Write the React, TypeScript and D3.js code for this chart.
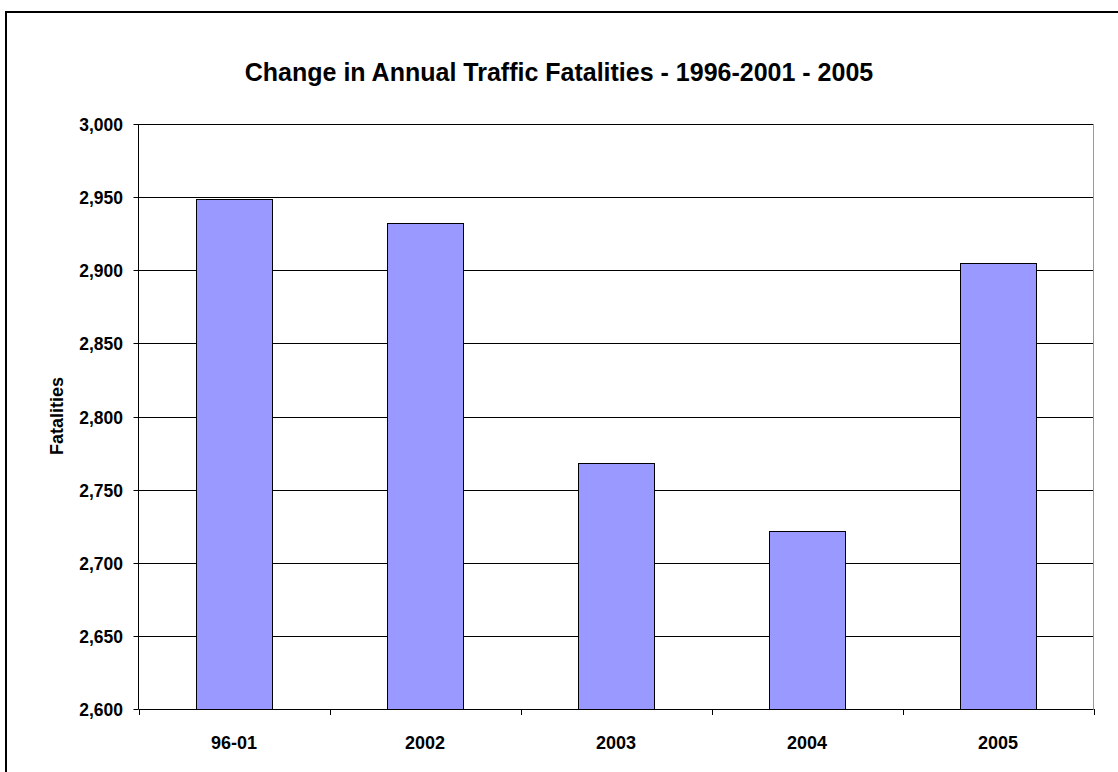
import React from "react";
import * as d3 from "d3";

const categories = ["96-01", "2002", "2003", "2004", "2005"];
const values = [2949, 2932, 2768, 2722, 2905];
const yTicks = [2600, 2650, 2700, 2750, 2800, 2850, 2900, 2950, 3000];
const title = "Change in Annual Traffic Fatalities - 1996-2001 - 2005";
const yTitle = "Fatalities";

export default function App() {
  const W = 1118, H = 772;
  const left = 138.5, right = 1093.5, top = 124, bottom = 709;
  const x = d3.scaleBand<string>().domain(categories).range([left, right]).paddingInner(0).paddingOuter(0);
  const y = d3.scaleLinear().domain([2600, 3000]).range([bottom, top]);
  const bw = x.bandwidth() * 0.4;
  const fmt = d3.format(",");
  const font = "'Liberation Sans', Arial, sans-serif";
  return (
    <svg width={W} height={H} style={{ position: "absolute", left: 0, top: 0, background: "#fff" }}>
      <rect x={6} y={12} width={W + 10} height={H + 10} fill="#fff" stroke="#000" strokeWidth={2} />
      <text x={559} y={81} textAnchor="middle" fontFamily={font} fontWeight="bold" fontSize={25}>{title}</text>
      {yTicks.map((t) => (
        <g key={t}>
          {t !== 2600 && <line x1={left} x2={right} y1={Math.round(y(t)) + 0.5} y2={Math.round(y(t)) + 0.5} stroke="#000" strokeWidth={1} />}
          <line x1={left - 5} x2={left} y1={Math.round(y(t)) + 0.5} y2={Math.round(y(t)) + 0.5} stroke="#000" />
          <text x={123} y={y(t) + 7} textAnchor="end" fontFamily={font} fontWeight="bold" fontSize={17.5}>{fmt(t)}</text>
        </g>
      ))}
      <line x1={right} x2={right} y1={top} y2={bottom} stroke="#999" strokeWidth={1} />
      {categories.map((c, i) => {
        const cx = x(c)! + x.bandwidth() / 2;
        const yt = y(values[i]);
        return (
          <g key={c}>
            <rect x={Math.round(cx - bw / 2) + 0.5} y={Math.round(yt) + 0.5} width={Math.round(bw)} height={bottom - Math.round(yt)} fill="#9999FF" stroke="#000" strokeWidth={1} />
            <text x={cx} y={749} textAnchor="middle" fontFamily={font} fontWeight="bold" fontSize={18}>{c}</text>
          </g>
        );
      })}
      {categories.concat([""]).map((c, i) => {
        const xx = Math.round(left + i * x.bandwidth()) + 0.5;
        return <line key={i} x1={xx} x2={xx} y1={bottom} y2={bottom + 6} stroke="#000" />;
      })}
      <line x1={left} x2={left} y1={top} y2={bottom} stroke="#000" />
      <line x1={left} x2={right} y1={bottom + 0.5} y2={bottom + 0.5} stroke="#000" />
      <text transform={`translate(${63},${416}) rotate(-90)`} textAnchor="middle" fontFamily={font} fontWeight="bold" fontSize={18}>{yTitle}</text>
    </svg>
  );
}
